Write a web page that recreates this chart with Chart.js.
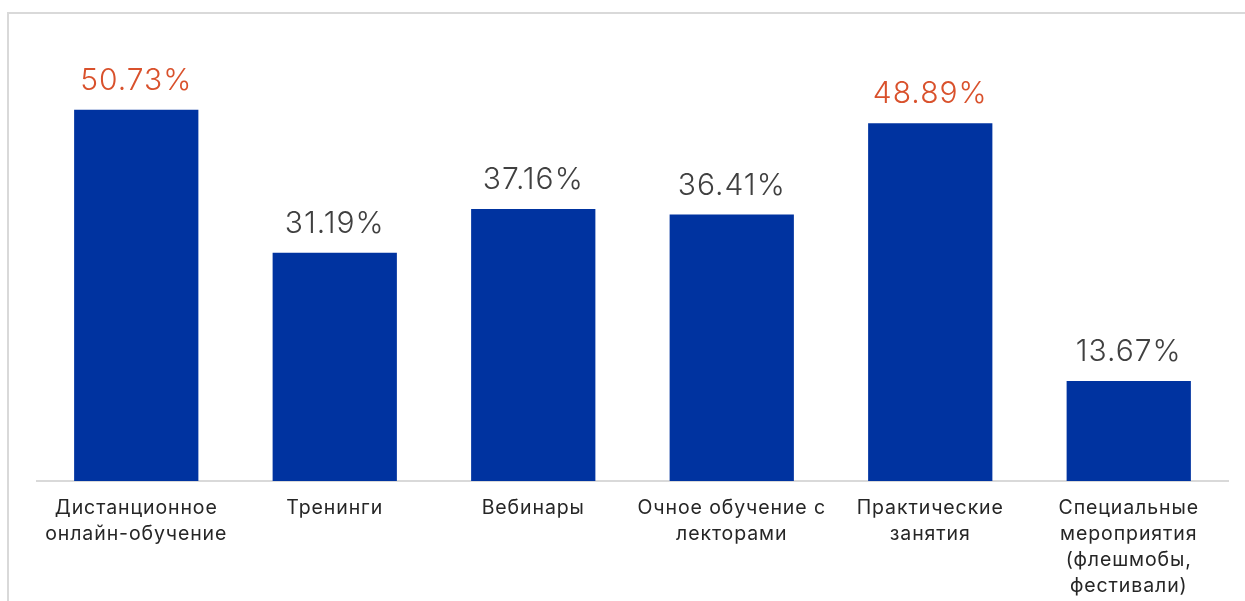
<!DOCTYPE html>
<html>
<head>
<meta charset="utf-8">
<script src="https://cdn.jsdelivr.net/npm/chart.js@4.4.0/dist/chart.umd.min.js"></script>
<style>
  html, body { margin: 0; padding: 0; background: #ffffff; overflow: hidden; }
  #wrap { position: relative; width: 1245px; height: 601px; }
  #frame { position: absolute; left: 7px; top: 12px; width: 1260px; height: 620px;
           border: 2px solid #d9d9d9; box-sizing: border-box; }
  canvas { position: absolute; left: 0; top: 0; }
</style>
</head>
<body>
<div id="wrap">
  <div id="frame"></div>
  <canvas id="c" width="1245" height="601"></canvas>
</div>
<script>
// Формы обучения: доля респондентов, %
const categories = [
  ['Дистанционное', 'онлайн-обучение'],
  ['Тренинги'],
  ['Вебинары'],
  ['Очное обучение с', 'лекторами'],
  ['Практические', 'занятия'],
  ['Специальные', 'мероприятия', '(флешмобы,', 'фестивали)']
];
const shares = [50.73, 31.19, 37.16, 36.41, 48.89, 13.67];
// значения, выделенные цветом
const highlighted = [true, false, false, false, true, false];

const BAR = '#0033a0';
const LABEL_DARK = '#404040';
const LABEL_ACCENT = '#d9512c';

// чуть более разреженный текст для всех подписей
const spacing = {
  id: 'spacing',
  beforeDraw(chart) { chart.ctx.letterSpacing = '0.9px'; }
};

// подписи значений над столбцами
const valueLabels = {
  id: 'valueLabels',
  afterDatasetsDraw(chart) {
    const ctx = chart.ctx;
    const meta = chart.getDatasetMeta(0);
    ctx.save();
    ctx.letterSpacing = '1px';
    ctx.font = '300 30px Inter, "Noto Sans", sans-serif';
    ctx.textAlign = 'center';
    ctx.textBaseline = 'alphabetic';
    meta.data.forEach((bar, i) => {
      ctx.fillStyle = highlighted[i] ? LABEL_ACCENT : LABEL_DARK;
      ctx.fillText(shares[i].toFixed(2) + '%', bar.x, bar.y - 20);
    });
    ctx.restore();
  }
};

new Chart(document.getElementById('c'), {
  type: 'bar',
  data: {
    labels: categories,
    datasets: [{
      data: shares,
      backgroundColor: BAR,
      borderWidth: 0,
      barPercentage: 1,
      categoryPercentage: 0.626
    }]
  },
  options: {
    responsive: false,
    animation: false,
    events: [],
    layout: { padding: { left: 37, right: 17, top: 42, bottom: 0 } },
    plugins: { legend: { display: false }, tooltip: { enabled: false } },
    scales: {
      x: {
        grid: { display: false },
        border: { display: true, color: '#d9d9d9', width: 2 },
        ticks: {
          color: '#262626',
          font: { family: 'Inter, "Noto Sans", sans-serif', size: 19.5, weight: '400', lineHeight: 1.34 },
          padding: 6,
          maxRotation: 0,
          autoSkip: false
        },
        afterFit(scale) { scale.height = 120; }
      },
      y: {
        display: false,
        min: 0,
        max: 60
      }
    }
  },
  plugins: [spacing, valueLabels]
});
</script>
</body>
</html>
